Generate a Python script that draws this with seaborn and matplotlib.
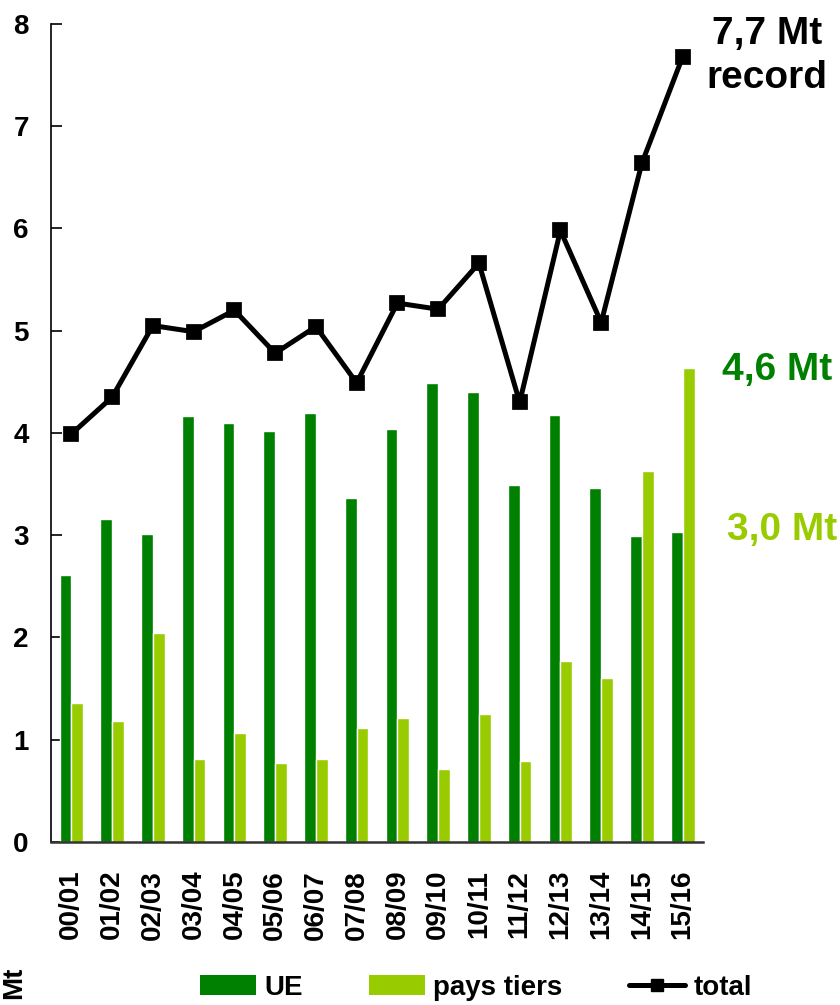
import numpy as np
import pandas as pd
import matplotlib
matplotlib.use("Agg")
import matplotlib.pyplot as plt
from matplotlib.patches import Patch
from matplotlib.lines import Line2D
import seaborn as sns

# Campaign years and tonnages (Mt)
saisons = ["00/01", "01/02", "02/03", "03/04", "04/05", "05/06", "06/07", "07/08",
           "08/09", "09/10", "10/11", "11/12", "12/13", "13/14", "14/15", "15/16"]
ue = [2.61, 3.16, 3.01, 4.17, 4.10, 4.02, 4.20, 3.36,
      4.04, 4.49, 4.40, 3.49, 4.18, 3.46, 2.99, 3.03]
pays_tiers = [1.36, 1.18, 2.04, 0.81, 1.07, 0.77, 0.81, 1.11,
              1.21, 0.71, 1.25, 0.79, 1.77, 1.60, 3.63, 4.64]
total = [3.99, 4.35, 5.05, 4.99, 5.20, 4.78, 5.04, 4.49,
         5.27, 5.21, 5.66, 4.30, 5.98, 5.08, 6.64, 7.68]
yticks = [0, 1, 2, 3, 4, 5, 6, 7, 8]

VERT = "#008000"
VERT_CLAIR = "#99CC00"

sns.set_theme(style="white")
plt.rcParams["font.family"] = ["Liberation Sans", "DejaVu Sans"]
plt.rcParams["font.weight"] = "bold"
plt.rcParams["text.color"] = "black"
plt.rcParams["xtick.color"] = "black"
plt.rcParams["ytick.color"] = "black"

bars = pd.DataFrame({
    "saison": saisons * 2,
    "Mt": ue + pays_tiers,
    "origine": ["UE"] * len(saisons) + ["pays tiers"] * len(saisons),
})
lines = pd.DataFrame({"saison": saisons, "total": total})

fig = plt.figure(figsize=(8.4, 10.05), dpi=100)
ax = fig.add_axes([0.0607, 0.1622, 0.7763, 0.8140])

sns.barplot(data=bars, x="saison", y="Mt", hue="origine", order=saisons,
            hue_order=["UE", "pays tiers"], palette=[VERT, VERT_CLAIR],
            width=0.58, gap=0, errorbar=None, saturation=1, legend=False, ax=ax)
sns.pointplot(data=lines, x="saison", y="total", order=saisons, color="black",
              markers="s", linestyles="-", errorbar=None, markersize=8,
              linewidth=3.6, ax=ax)

ax.set_ylim(0, 8)
ax.set_xlim(-0.5, len(saisons) - 0.5)
ax.set_yticks(yticks)
ax.set_yticklabels([str(t) for t in yticks], fontsize=20, fontweight="bold",
                   color="black")
ax.set_xticks(range(len(saisons)))
ax.set_xticklabels(saisons, rotation=90, fontsize=20, fontweight="bold", color="black")
ax.set_xlabel("")
ax.set_ylabel("")

for side in ("top", "right"):
    ax.spines[side].set_visible(False)
ax.spines["left"].set_color("black")
ax.spines["left"].set_linewidth(1.2)
ax.spines["bottom"].set_color("#333333")
ax.spines["bottom"].set_linewidth(1.8)
ax.tick_params(axis="y", direction="in", length=8, width=1.2, color="black", pad=16,
               left=True)
ax.tick_params(axis="x", length=0, pad=20)
ax.grid(False)

# Right-hand annotations
fig.text(767 / 840, 1 - 56 / 1005, "7,7 Mt\nrecord", ha="center", va="center",
         fontsize=28, fontweight="bold", color="black", linespacing=1.3)
fig.text(777 / 840, 1 - 370 / 1005, "4,6 Mt", ha="center", va="center",
         fontsize=28, fontweight="bold", color=VERT)
fig.text(782 / 840, 1 - 530 / 1005, "3,0 Mt", ha="center", va="center",
         fontsize=28, fontweight="bold", color=VERT_CLAIR)

# Unit label and legend along the bottom
fig.text(14 / 840, 1 - 983 / 1005, "Mt", rotation=90, ha="center", va="center",
         fontsize=20, fontweight="bold", color="black")
handles = [
    Patch(facecolor=VERT, edgecolor="none", label="UE"),
    Patch(facecolor=VERT_CLAIR, edgecolor="none", label="pays tiers"),
    Line2D([0], [0], color="black", lw=3.6, marker="s", markersize=8, label="total"),
]
fig.legend(handles=handles, loc="center", bbox_to_anchor=(476 / 840, 1 - 988 / 1005),
           ncol=3, frameon=False, prop={"size": 20, "weight": "bold"},
           handlelength=2.0, handleheight=0.72, handletextpad=0.3,
           columnspacing=2.4, numpoints=1, borderpad=0, borderaxespad=0)

fig.savefig("out.png", dpi=100)
